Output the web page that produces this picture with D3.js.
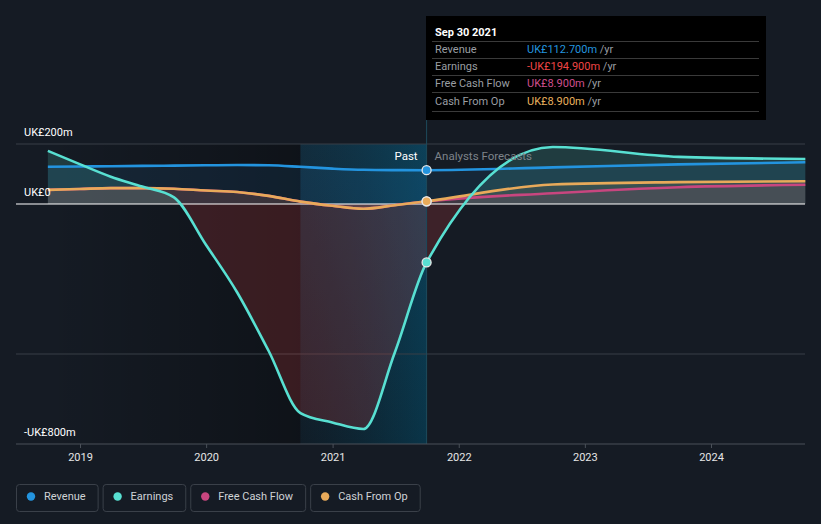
<!DOCTYPE html>
<html><head><meta charset="utf-8">
<script src="https://cdn.jsdelivr.net/npm/d3@7"></script>
<style>
body{margin:0;background:#151b24;}
svg{display:block;font-family:Roboto,"Noto Sans",sans-serif;}
</style>
</head><body>
<svg id="c" width="821" height="524"></svg>
<script>
// ---------------- data ----------------
const pastDates = ["2018-09-30","2018-12-31","2019-03-31","2019-06-30","2019-09-30","2019-12-31","2020-03-31","2020-06-30","2020-09-30","2020-12-31","2021-03-31","2021-06-30","2021-09-30"];
const forecastDates = ["2021-09-30","2022-09-30","2023-09-30","2024-09-30"];
const revenuePast = [124,125,126,127,128,129,130,129,124,118,114,113,112.7];
const revenueForecast = [112.7,122,132,139];
const earningsPast = [177,133,91,58,22,-135,-295,-490,-697,-728,-750,-495,-194.9];
const earningsForecast = [-194.9,190,157,150];
const cfoPast = [47,50,53,53,51,45,40,27,8,-6,-16,-4,8.9];
const cfoForecast = [8.9,65,73,76];
const fcfPast = [47,50,53,53,51,45,40,27,8,-6,-16,-4,8.9];
const fcfForecast = [8.9,36,56,64];
const yTickValues = [200,0,-800];
const yTickLabels = ["UK£200m","UK£0","-UK£800m"];
const gridValues = [200,-500];
const legendItems = ["Revenue","Earnings","Free Cash Flow","Cash From Op"];
const tooltipDate = "Sep 30 2021";
const tooltipValues = ["UK£112.700m","-UK£194.900m","UK£8.900m","UK£8.900m"];
const pastStart = "2020-09-30", nowDate = "2021-09-30";

// ---------------- setup ----------------
const parse = d3.timeParse("%Y-%m-%d");
const svg = d3.select("#c");
const W = 821, H = 524;
const pL = 16, pR = 805, pT = 144, pB = 444;
const x = d3.scaleTime().domain([parse("2019-01-01"), parse("2024-01-01")]).range([80, 711]);
const y = d3.scaleLinear().domain([-800, 200]).range([pB, pT]);

const colors = {rev:"#2394df", earn:"#58e0d2", fcf:"#c8467f", cfo:"#e8aa5a"};

function series(pd, pv, fd, fv){
  const a = pd.map((d,i)=>({d:parse(d), v:pv[i]}));
  const b = fd.slice(1).map((d,i)=>({d:parse(d), v:fv[i+1]}));
  return a.concat(b);
}
const rev = series(pastDates, revenuePast, forecastDates, revenueForecast);
const earn = series(pastDates, earningsPast, forecastDates, earningsForecast);
const cfo = series(pastDates, cfoPast, forecastDates, cfoForecast);
const fcf = series(pastDates, fcfPast, forecastDates, fcfForecast);

svg.append("rect").attr("width",W).attr("height",H).attr("fill","#151b24");

const defs = svg.append("defs");
const gDark = defs.append("linearGradient").attr("id","gDark").attr("x1","0").attr("x2","1").attr("y1","0").attr("y2","0");
gDark.append("stop").attr("offset","0").attr("stop-color","#000").attr("stop-opacity",0);
gDark.append("stop").attr("offset","1").attr("stop-color","#000").attr("stop-opacity",0.32);
const gBand = defs.append("linearGradient").attr("id","gBand").attr("x1","0").attr("x2","1").attr("y1","0").attr("y2","0");
gBand.append("stop").attr("offset","0").attr("stop-color","#062230").attr("stop-opacity",0.3);
gBand.append("stop").attr("offset","1").attr("stop-color","#004a66").attr("stop-opacity",0.55);
const gBandV = defs.append("linearGradient").attr("id","gBandV").attr("x1","0").attr("x2","0").attr("y1","0").attr("y2","1");
gBandV.append("stop").attr("offset","0").attr("stop-color","#1a7fb0").attr("stop-opacity",0.16);
gBandV.append("stop").attr("offset","1").attr("stop-color","#1a7fb0").attr("stop-opacity",0);

defs.append("clipPath").attr("id","clipPos").append("rect").attr("x",0).attr("y",0).attr("width",W).attr("height",y(0));
defs.append("clipPath").attr("id","clipNeg").append("rect").attr("x",0).attr("y",y(0)).attr("width",W).attr("height",H-y(0));

// background regions
const xPast = x(parse(pastStart)), xNow = x(parse(nowDate));
svg.append("rect").attr("x",48).attr("y",pT).attr("width",xPast-48).attr("height",pB-pT).attr("fill","url(#gDark)");
svg.append("rect").attr("x",xPast).attr("y",pT).attr("width",xNow-xPast).attr("height",pB-pT).attr("fill","url(#gBand)");
svg.append("rect").attr("x",xPast).attr("y",pT).attr("width",xNow-xPast).attr("height",pB-pT).attr("fill","url(#gBandV)");

// grid
svg.selectAll(".grid").data(gridValues).enter().append("line")
  .attr("x1",pL).attr("x2",pR).attr("y1",d=>y(d)).attr("y2",d=>y(d))
  .attr("stroke","#383e47").attr("stroke-width",1);

// areas
const area = d3.area().x(d=>x(d.d)).y0(y(0)).y1(d=>y(d.v)).curve(d3.curveMonotoneX);
const line = d3.line().x(d=>x(d.d)).y(d=>y(d.v)).curve(d3.curveMonotoneX);

svg.append("path").attr("d",area(earn)).attr("fill",colors.earn).attr("fill-opacity",0.17).attr("clip-path","url(#clipPos)");
svg.append("path").attr("d",area(earn)).attr("fill","#e0403f").attr("fill-opacity",0.2).attr("clip-path","url(#clipNeg)");
svg.append("path").attr("d",area(rev)).attr("fill",colors.rev).attr("fill-opacity",0.1);
svg.append("path").attr("d",area(cfo)).attr("fill",colors.cfo).attr("fill-opacity",0.12);
svg.append("path").attr("d",area(fcf)).attr("fill",colors.fcf).attr("fill-opacity",0.1);

// zero line
svg.append("line").attr("x1",pL).attr("x2",pR).attr("y1",y(0)).attr("y2",y(0)).attr("stroke","#ffffff").attr("stroke-width",1.2);

// lines
[[fcf,colors.fcf],[cfo,colors.cfo],[rev,colors.rev],[earn,colors.earn]].forEach(([s,c])=>{
  svg.append("path").attr("d",line(s)).attr("fill","none").attr("stroke",c).attr("stroke-width",2.6);
});

// now line
svg.append("line").attr("x1",xNow).attr("x2",xNow).attr("y1",120).attr("y2",pB).attr("stroke","#1d4a5c").attr("stroke-width",1);

// dots
const nowD = parse(nowDate);
[[fcfPast,colors.fcf],[cfoPast,colors.cfo],[revenuePast,colors.rev],[earningsPast,colors.earn]].forEach(([arr,c])=>{
  svg.append("circle").attr("cx",x(nowD)).attr("cy",y(arr[arr.length-1])).attr("r",4.5)
    .attr("fill",c).attr("stroke","#e8e8e8").attr("stroke-width",1.3);
});

// past / forecast labels
svg.append("text").attr("x",xNow-9).attr("y",160).attr("text-anchor","end").attr("fill","#ffffff").attr("font-size",11.5).text("Past");
svg.append("text").attr("x",xNow+8).attr("y",160).attr("fill","#7e838a").attr("font-size",11.5).text("Analysts Forecasts");

// y labels
svg.selectAll(".yl").data(yTickValues).enter().append("text")
  .attr("x",24).attr("y",d=> y(d) - 8)
  .attr("fill","#ffffff").attr("font-size",11).text((d,i)=>yTickLabels[i]);

// x axis
const axis = d3.axisBottom(x).ticks(d3.timeYear.every(1)).tickFormat(d3.timeFormat("%Y")).tickSize(4).tickPadding(5);
const ga = svg.append("g").attr("transform",`translate(0,${pB})`).call(axis);
ga.select(".domain").remove();
ga.selectAll(".tick line").attr("stroke","#4a5059");
ga.selectAll(".tick text").attr("fill","#e6e6e6").attr("font-size",11).attr("font-family","Roboto, sans-serif");
svg.append("line").attr("x1",pL).attr("x2",pR).attr("y1",pB).attr("y2",pB).attr("stroke","#4a5059");

// tooltip
const tt = svg.append("g");
tt.append("rect").attr("x",426).attr("y",16).attr("width",340).attr("height",104).attr("fill","#000000");
tt.append("text").attr("x",435).attr("y",36).attr("fill","#ffffff").attr("font-size",11).attr("font-weight","bold").text(tooltipDate);
[41,58,75,92,111].forEach(yy=>{
  tt.append("line").attr("x1",432).attr("x2",759).attr("y1",yy+0.5).attr("y2",yy+0.5).attr("stroke","#3a3a3a");
});
const ttColors = ["#2394df","#ef4545","#cf4f8e","#e8b05e"];
legendItems.forEach((name,i)=>{
  const by = 53 + i*17.2;
  tt.append("text").attr("x",435).attr("y",by).attr("fill","#9a9ea3").attr("font-size",11).text(name);
  const t = tt.append("text").attr("x",527).attr("y",by).attr("font-size",11);
  t.append("tspan").attr("fill",ttColors[i]).text(tooltipValues[i]);
  t.append("tspan").attr("fill","#9a9ea3").text(" /yr");
});

// legend
const legColors = [colors.rev, colors.earn, colors.fcf, colors.cfo];
let lx = 16;
legendItems.forEach((name,i)=>{
  const g = svg.append("g");
  const t = g.append("text").attr("x",lx+28).attr("y",500).attr("fill","#cfd2d6").attr("font-size",11).text(name);
  const tw = t.node().getComputedTextLength();
  const w = tw + 40;
  g.insert("rect","text").attr("x",lx+0.5).attr("y",484.5).attr("width",w).attr("height",27).attr("rx",3)
    .attr("fill","none").attr("stroke","#3a4049");
  g.append("circle").attr("cx",lx+15).attr("cy",496.5).attr("r",4.2).attr("fill",legColors[i]);
  lx += w + 5;
});
</script>
</body></html>
